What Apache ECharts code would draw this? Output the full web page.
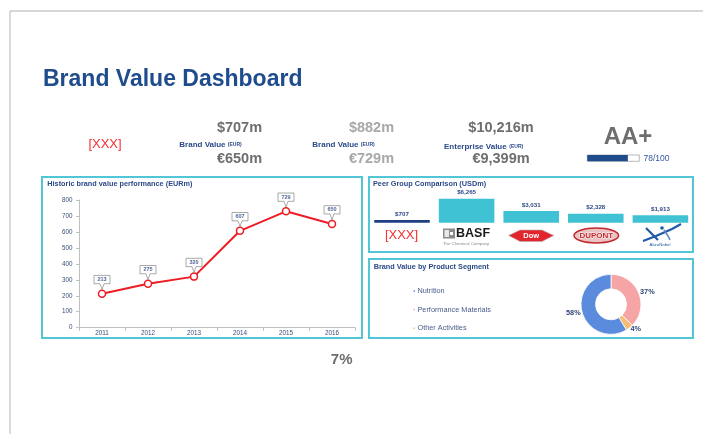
<!DOCTYPE html>
<html><head><meta charset="utf-8">
<script src="https://cdn.jsdelivr.net/npm/echarts@6/dist/echarts.min.js"></script>
<style>html,body{margin:0;padding:0;background:#fff}#c{width:703px;height:434px}</style>
</head><body><div id="c"></div>
<script>
// ---- data ----
const years = ['2011', '2012', '2013', '2014', '2015', '2016'];
const brandValues = [213, 275, 320, 607, 729, 650];
const yMin = 0, yMax = 800, yStep = 100;

const peerNames = ['[XXX]', 'BASF', 'Dow', 'DuPont', 'AkzoNobel'];
const peerValues = [707, 6265, 3031, 2328, 1913];

const segmentNames = ['Nutrition', 'Performance Materials', 'Other Activities'];
const segmentValues = [58, 37, 4];
const segmentDrawOrder = [1, 2, 0];

const ratingScore = 78, ratingMax = 100;
const ratingText = 'AA+';
const kpiUsd = ['$707m', '$882m', '$10,216m'];
const kpiEur = ['€650m', '€729m', '€9,399m'];
const kpiLabels = ['Brand Value', 'Brand Value', 'Enterprise Value'];
const growthText = '7%';

// ---- styling ----
const FF = '"Liberation Sans", Arial, sans-serif';
const BLUE = '#2B4A88';
const GRAY = '#6E6E6E';
const LGRAY = '#A8A8A8';
const RED = '#EE1C25';
const TEAL = '#3FC2D4';
const NAVY = '#1F3F85';
const PANEL = '#52C6D7';
const segColors = ['#5A8BDC', '#F5A5A5', '#F8BE78'];

function fmt(n) { return n.toString().replace(/\B(?=(\d{3})+(?!\d))/g, ','); }
function txt(x, y, text, size, color, weight, align, extra) {
  return Object.assign({
    type: 'text', x: x, y: y, silent: true,
    style: { text: text, font: (weight || 'normal') + ' ' + size + 'px ' + FF, fill: color,
      align: align || 'left', verticalAlign: 'middle' }
  }, extra || {});
}

const graphics = [
  { type: 'line', shape: { x1: 10, y1: 11, x2: 703, y2: 11 }, style: { stroke: '#C8C8C8', lineWidth: 1.3 } },
  { type: 'line', shape: { x1: 10, y1: 11, x2: 10, y2: 434 }, style: { stroke: '#C8C8C8', lineWidth: 1.3 } },
  txt(43, 79.5, 'Brand Value Dashboard', 23, '#1F4C8C', 'bold'),
  txt(105, 144, '[XXX]', 13, '#F23030', 'normal', 'center'),
  txt(239.5, 128, kpiUsd[0], 14.5, GRAY, 'bold', 'center'),
  txt(239.5, 158.7, kpiEur[0], 14.5, GRAY, 'bold', 'center'),
  txt(371.5, 128, kpiUsd[1], 14.5, LGRAY, 'bold', 'center'),
  txt(371.5, 158.7, kpiEur[1], 14.5, LGRAY, 'bold', 'center'),
  txt(501, 128, kpiUsd[2], 14.5, GRAY, 'bold', 'center'),
  txt(501, 158.7, kpiEur[2], 14.5, GRAY, 'bold', 'center'),
  txt(179.3, 145, kpiLabels[0], 8, BLUE, 'bold'),
  txt(227.8, 144.6, '(EUR)', 5, BLUE, 'bold'),
  txt(312.3, 145, kpiLabels[1], 8, BLUE, 'bold'),
  txt(360.8, 144.6, '(EUR)', 5, BLUE, 'bold'),
  txt(444, 146.7, kpiLabels[2], 8, BLUE, 'bold'),
  txt(509.3, 146.3, '(EUR)', 5, BLUE, 'bold'),
  txt(628, 137, ratingText, 24, GRAY, 'bold', 'center'),
  txt(643.5, 158.3, ratingScore + '/' + ratingMax, 8.5, '#3457A0', 'normal'),
  txt(341.7, 360, growthText, 15, GRAY, 'bold', 'center'),
  // panels
  { type: 'rect', shape: { x: 42, y: 177, width: 320, height: 161 }, style: { fill: 'none', stroke: PANEL, lineWidth: 2 } },
  { type: 'rect', shape: { x: 369, y: 177, width: 324, height: 75 }, style: { fill: 'none', stroke: PANEL, lineWidth: 2 } },
  { type: 'rect', shape: { x: 369, y: 259, width: 324, height: 79 }, style: { fill: 'none', stroke: PANEL, lineWidth: 2 } },
  txt(47.3, 184.3, 'Historic brand value performance (EURm)', 7.3, BLUE, 'bold'),
  txt(373, 184.3, 'Peer Group Comparison (USDm)', 7.3, BLUE, 'bold'),
  txt(373.7, 266.7, 'Brand Value by Product Segment', 7.3, BLUE, 'bold'),
  // logos (approximations)
  txt(401.5, 235, '[XXX]', 13, '#F23030', 'normal', 'center'),
  { type: 'rect', shape: { x: 443, y: 228.5, width: 12, height: 10 }, style: { fill: '#8A8A8A' } },
  { type: 'rect', shape: { x: 444.5, y: 230, width: 4.5, height: 7 }, style: { fill: '#E8E8E8' } },
  { type: 'rect', shape: { x: 450, y: 232, width: 3, height: 3 }, style: { fill: '#ffffff' } },
  txt(456, 233.6, 'BASF', 12.5, '#1A1A1A', 'bold'),
  txt(443, 243.5, 'The Chemical Company', 4.3, '#8A8A8A', 'normal'),
  { type: 'polygon', shape: { points: [[508.7, 235.5], [520, 230], [542, 230], [553.7, 235.5], [542, 241.5], [520, 241.5]] }, style: { fill: '#E3262E', stroke: '#B0B0B0', lineWidth: 0.6 } },
  txt(531.2, 235.8, 'Dow', 7.5, '#ffffff', 'bold', 'center'),
  { type: 'ellipse', shape: { cx: 596.3, cy: 235.5, rx: 22.3, ry: 7.5 }, style: { fill: '#EBC2C2', stroke: '#C2262E', lineWidth: 1.5 } },
  txt(596.3, 235.8, 'DUPONT', 8, '#C2262E', 'bold', 'center', { style: { text: 'DUPONT', font: 'bold 8px ' + FF, fill: '#C2262E', stroke: '#ffffff', lineWidth: 0.8, align: 'center', verticalAlign: 'middle' } }),
  { type: 'polyline', shape: { points: [[643, 241], [656, 236], [672, 229], [681, 224]] }, style: { stroke: '#2158A8', lineWidth: 2.2, fill: 'none' } },
  { type: 'polyline', shape: { points: [[646, 228], [652, 234], [658, 240]] }, style: { stroke: '#2158A8', lineWidth: 2.2, fill: 'none' } },
  { type: 'polyline', shape: { points: [[664, 230], [668, 236], [670, 240]] }, style: { stroke: '#5B86C8', lineWidth: 1.5, fill: 'none' } },
  { type: 'circle', shape: { cx: 662, cy: 228, r: 1.8 }, style: { fill: '#2158A8' } },
  txt(660, 245, 'AkzoNobel', 4.3, '#2158A8', 'normal', 'center')
];

const chart = echarts.init(document.getElementById('c'), null, { renderer: 'canvas' });
chart.setOption({
  animation: false,
  textStyle: { fontFamily: FF },
  graphic: graphics,
  grid: [
    { left: 79, top: 200, width: 276, height: 127.7 },
    { left: 369.7, top: 198.7, width: 323, height: 24 },
    { left: 587.3, top: 155, width: 52, height: 6.3 }
  ],
  xAxis: [
    { gridIndex: 0, type: 'category', data: years,
      axisLine: { lineStyle: { color: '#BFBFBF', width: 1 } },
      axisTick: { show: true, length: 3, lineStyle: { color: '#BFBFBF' } },
      axisLabel: { fontSize: 6.3, color: '#3A4C78', margin: 2.5 } },
    { gridIndex: 1, type: 'category', data: peerNames, show: false },
    { gridIndex: 2, type: 'value', min: 0, max: ratingMax, show: false }
  ],
  yAxis: [
    { gridIndex: 0, type: 'value', min: yMin, max: yMax, interval: yStep,
      splitLine: { show: false },
      axisLine: { show: true, lineStyle: { color: '#BFBFBF', width: 1 } },
      axisTick: { show: true, length: 3, lineStyle: { color: '#BFBFBF' } },
      axisLabel: { fontSize: 6.3, color: '#3A4C78', margin: 6.5 } },
    { gridIndex: 1, type: 'value', min: 0, max: function (v) { return v.max; }, show: false },
    { gridIndex: 2, type: 'category', data: ['rating'], show: false }
  ],
  legend: {
    orient: 'vertical', left: 411.5, top: 286.5, icon: 'rect',
    itemWidth: 3.5, itemHeight: 3.5, itemGap: 9.6, padding: 0,
    data: segmentNames,
    textStyle: { fontSize: 7.3, color: '#4A5C8C', lineHeight: 9, padding: [0, 0, 0, -3.5] }
  },
  series: [
    { type: 'line', xAxisIndex: 0, yAxisIndex: 0, data: brandValues, z: 3,
      symbol: 'circle', symbolSize: 7,
      lineStyle: { color: RED, width: 2 },
      itemStyle: { color: '#ffffff', borderColor: RED, borderWidth: 1.5 } },
    { type: 'scatter', xAxisIndex: 0, yAxisIndex: 0, data: brandValues, z: 4, silent: true,
      symbol: 'path://M0,0L16,0L16,8.3L10,8.3L8,14L6,8.3L0,8.3Z',
      symbolSize: [16, 14], symbolOffset: [0, -11.3],
      itemStyle: { color: '#ffffff', borderColor: '#7A7A7A', borderWidth: 0.8 },
      label: { show: true, position: 'inside', offset: [0, -2.85], formatter: '{c}',
        fontSize: 5.5, fontWeight: 'bold', color: '#23407C' } },
    { type: 'bar', xAxisIndex: 1, yAxisIndex: 1, barWidth: '86%', silent: true,
      data: peerValues.map(function (v, i) { return { value: v, itemStyle: { color: i === 0 ? NAVY : TEAL } }; }),
      label: { show: true, position: 'top', distance: 3, fontSize: 6.2, fontWeight: 'bold', color: '#2E4A86',
        formatter: function (p) { return '$' + fmt(p.value); } } },
    { type: 'bar', xAxisIndex: 2, yAxisIndex: 2, barWidth: 6.3, silent: true,
      data: [ratingScore], itemStyle: { color: '#1F4C8C' },
      showBackground: true, backgroundStyle: { color: '#ffffff', borderColor: '#8A8A8A', borderWidth: 0.6 } },
    { type: 'pie', center: [611, 304.3], radius: [15.5, 30], startAngle: 90, clockwise: true,
      avoidLabelOverlap: false, silent: true,
      data: segmentDrawOrder.map(function (i) { return { name: segmentNames[i], value: segmentValues[i], itemStyle: { color: segColors[i] } }; }),
      itemStyle: { borderColor: '#ffffff', borderWidth: 0.8 },
      label: { show: true, position: 'outside', formatter: '{c}%', fontSize: 7.3, fontWeight: 'bold', color: '#2E4575', distanceToLabelLine: 0 },
      labelLine: { show: false, length: 1.5, length2: 0 } }
  ]
});
</script></body></html>
